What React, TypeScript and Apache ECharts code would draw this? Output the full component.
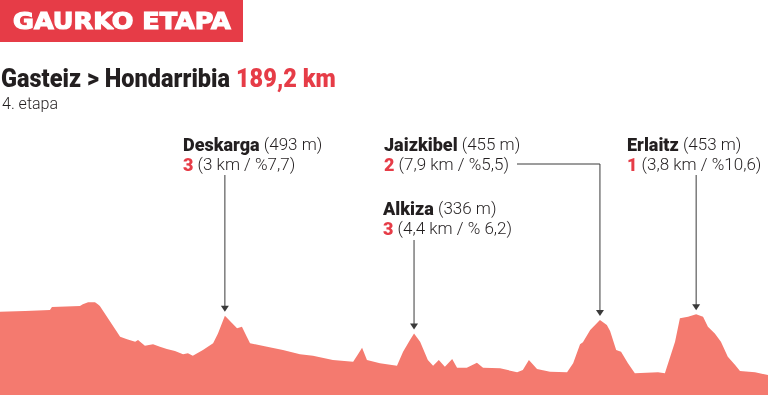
import React, { useEffect, useRef } from 'react';
import * as echarts from 'echarts';

// Elevation profile: distance (km) and altitude (m)
const distanceKm = [0, 6.2, 12.3, 12.8, 19.7, 20.4, 21.7, 23.4, 24.1, 24.6, 29.6, 31.3, 33.3, 34.0, 35.7, 37.7, 39.4, 41.1, 43.1, 45.1, 46.3, 47.5, 50.0, 52.5, 53.7, 55.4, 57.2, 58.4, 59.6, 60.8, 61.6, 65.8, 69.7, 73.9, 77.1, 82.0, 87.0, 88.2, 89.2, 90.4, 93.6, 97.8, 99.3, 101.0, 102.0, 103.5, 105.4, 106.7, 108.1, 109.6, 111.4, 112.6, 115.0, 117.5, 119.0, 123.2, 127.4, 128.8, 130.3, 132.3, 135.5, 139.7, 141.2, 142.9, 143.6, 145.4, 147.8, 149.5, 150.3, 151.8, 153.0, 154.7, 156.4, 162.1, 163.8, 166.3, 167.5, 169.5, 171.5, 173.2, 174.4, 176.1, 177.6, 179.3, 181.1, 182.3, 186.0, 189.2];
const elevationM = [521, 525, 531, 550, 556, 567, 579, 579, 567, 556, 364, 348, 333, 344, 308, 317, 302, 287, 275, 254, 261, 246, 281, 323, 385, 495, 448, 417, 427, 364, 323, 302, 281, 254, 246, 219, 208, 254, 296, 219, 198, 183, 271, 344, 385, 333, 219, 183, 219, 177, 225, 171, 171, 202, 171, 167, 142, 156, 219, 163, 146, 142, 198, 317, 329, 406, 469, 438, 400, 281, 271, 198, 136, 142, 136, 333, 479, 489, 504, 489, 427, 385, 333, 239, 188, 150, 142, 125];

// Climbs
const climbNames = ['Deskarga', 'Alkiza', 'Jaizkibel', 'Erlaitz'];
const climbHeights = ['493 m', '336 m', '455 m', '453 m'];
const climbCategories = ['3', '3', '2', '1'];
const climbDetails = ['3 km / %7,7', '4,4 km / % 6,2', '7,9 km / %5,5', '3,8 km / %10,6'];
const climbPeakKm = [55.4, 102.0, 147.8, 171.5];

// Titles
const headerText = 'GAURKO ETAPA';
const routeText = 'Gasteiz > Hondarribia';
const distanceText = '189,2 km';
const stageText = '4. etapa';

// Layout of the callouts (label position, connector start)
const calloutLayout = [
  { x: 183, y: 144, lineTop: 175, elbow: false },
  { x: 383, y: 208, lineTop: 240, elbow: false },
  { x: 384, y: 144, lineTop: 164, elbow: true, elbowStartX: 517 },
  { x: 627, y: 144, lineTop: 175, elbow: false },
];

const RED = '#e63c47';
const DARK = '#231f20';
const FILL = '#f47a6f';
const LINE = '#3a3a3a';
const FONT = 'Roboto';

function measure(text: string, font: string) {
  const c = document.createElement('canvas').getContext('2d')!;
  c.font = font;
  return c.measureText(text).width;
}

export default function App() {
  const ref = useRef<HTMLDivElement>(null);
  useEffect(() => {
    const chart = echarts.init(ref.current!, null, { renderer: 'svg' });
    chart.setOption({
      animation: false,
      grid: { left: 0, right: 0, top: 295, bottom: 0 },
      xAxis: { type: 'value', min: 0, max: 189.2, show: false },
      yAxis: { type: 'value', min: 0, max: 625, show: false },
      series: [
        {
          type: 'line',
          data: distanceKm.map((d, i) => [d, elevationM[i]]),
          showSymbol: false,
          symbol: 'none',
          silent: true,
          lineStyle: { width: 0, color: FILL },
          areaStyle: { color: FILL, opacity: 1 },
        },
      ],
    });

    const headerFont = `bold 23px "DejaVu Sans"`;
    const headerScale = 218 / measure(headerText, headerFont);
    const routeFontSize = 25;
    const routeW = measure(routeText + ' ' + distanceText, `900 ${routeFontSize}px ${FONT}`);
    const routeScale = 335 / routeW;

    const graphics: any[] = [
      { type: 'rect', shape: { x: 0, y: 0, width: 243, height: 42 }, style: { fill: RED } },
      {
        type: 'text',
        x: 13,
        y: 21,
        scaleX: headerScale,
        style: {
          text: headerText,
          fill: '#ffffff',
          stroke: '#ffffff',
          lineWidth: 1.2,
          fontFamily: 'DejaVu Sans',
          fontSize: 23,
          fontWeight: 'bold',
          align: 'left',
          verticalAlign: 'middle',
        },
      },
      {
        type: 'text',
        x: 1,
        y: 78,
        scaleX: routeScale,
        style: {
          text: `{a|${routeText}} {b|${distanceText}}`,
          fontFamily: FONT,
          fontSize: routeFontSize,
          fontWeight: 900,
          fill: DARK,
          align: 'left',
          verticalAlign: 'middle',
          rich: {
            a: { fontFamily: FONT, fontSize: routeFontSize, fontWeight: 900, fill: DARK, color: DARK },
            b: { fontFamily: FONT, fontSize: routeFontSize, fontWeight: 900, fill: RED, color: RED },
          },
        },
      },
      {
        type: 'text',
        x: 2,
        y: 103,
        style: {
          text: stageText,
          fontFamily: FONT,
          fontSize: 16,
          fontWeight: 300,
          fill: DARK,
          align: 'left',
          verticalAlign: 'middle',
        },
      },
    ];

    const rich = {
      b: { fontFamily: FONT, fontSize: 18, fontWeight: 900, fill: DARK, color: DARK },
      r: { fontFamily: FONT, fontSize: 17, fontWeight: 300, fill: DARK, color: DARK },
      c: { fontFamily: FONT, fontSize: 18, fontWeight: 900, fill: RED, color: RED },
    };

    climbNames.forEach((name, i) => {
      const lay = calloutLayout[i];
      const idx = distanceKm.indexOf(climbPeakKm[i]);
      const [px, py] = chart.convertToPixel({ xAxisIndex: 0, yAxisIndex: 0 }, [distanceKm[idx], elevationM[idx]]) as number[];
      const tipY = py - 4;
      graphics.push({
        type: 'text',
        x: lay.x,
        y: lay.y,
        style: {
          text: `{b|${name}}{r| (${climbHeights[i]})}`,
          fontFamily: FONT,
          fontSize: 17,
          fill: DARK,
          align: 'left',
          verticalAlign: 'middle',
          rich,
        },
      });
      graphics.push({
        type: 'text',
        x: lay.x,
        y: lay.y + 20,
        style: {
          text: `{c|${climbCategories[i]}}{r| (${climbDetails[i]})}`,
          fontFamily: FONT,
          fontSize: 17,
          fill: DARK,
          align: 'left',
          verticalAlign: 'middle',
          rich,
        },
      });
      if (lay.elbow) {
        graphics.push({
          type: 'polyline',
          shape: { points: [[lay.elbowStartX, lay.lineTop], [px, lay.lineTop], [px, tipY - 3]] },
          style: { stroke: LINE, lineWidth: 1, fill: 'none' },
        });
      } else {
        graphics.push({
          type: 'line',
          shape: { x1: px, y1: lay.lineTop, x2: px, y2: tipY - 3 },
          style: { stroke: LINE, lineWidth: 1 },
        });
      }
      graphics.push({
        type: 'polygon',
        shape: { points: [[px - 4, tipY - 6], [px + 4, tipY - 6], [px, tipY]] },
        style: { fill: LINE },
      });
    });

    chart.setOption({ graphic: graphics });
    return () => chart.dispose();
  }, []);
  return <div ref={ref} style={{ position: 'fixed', left: 0, top: 0, width: 768, height: 395 }} />;
}
